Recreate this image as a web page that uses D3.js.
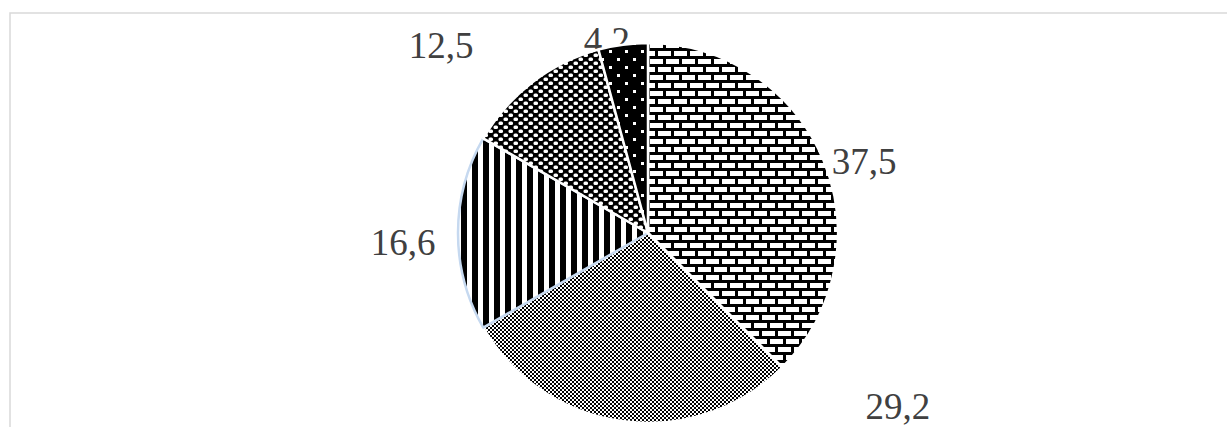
<!DOCTYPE html>
<html>
<head>
<meta charset="utf-8">
<script src="https://cdn.jsdelivr.net/npm/d3@7"></script>
<style>
  html, body { margin: 0; padding: 0; background: #fff; }
  svg { display: block; }
</style>
</head>
<body>
<svg id="chart" width="1227" height="427"></svg>
<script>
// chart data
const values = [37.5, 29.2, 16.6, 12.5, 4.2];
const valueLabels = ['37,5', '29,2', '16,6', '12,5', '4,2'];
const fills = ['brick', 'checkFine', 'stripes', 'sphere', 'dots'];

// label placement (degrees clockwise from top, radius as share of pie radius)
const labelAngle = [71.5, 124.7, 268, 312.2, 348];
const labelRadius = [1.20, 1.60, 1.29, 1.47, 1.04];

const W = 1227, H = 427;
const cx = 648, cy = 233, r = 190;

const svg = d3.select('#chart');
const defs = svg.append('defs');

// brick
const brick = defs.append('pattern')
  .attr('id', 'brick')
  .attr('patternUnits', 'userSpaceOnUse')
  .attr('width', 16).attr('height', 16);
brick.append('rect').attr('width', 16).attr('height', 16).style('fill', '#000');
[[2, 2], [10, 10], [-6, 10]].forEach(([x, y]) => {
  brick.append('rect')
    .attr('x', x).attr('y', y)
    .attr('width', 13).attr('height', 5)
    .style('fill', '#fff');
});

// small checker
const checkFine = defs.append('pattern')
  .attr('id', 'checkFine')
  .attr('patternUnits', 'userSpaceOnUse')
  .attr('width', 4).attr('height', 4);
checkFine.append('rect').attr('width', 4).attr('height', 4).style('fill', '#fff');
[[0, 0], [2, 2]].forEach(([x, y]) => {
  checkFine.append('rect')
    .attr('x', x).attr('y', y)
    .attr('width', 2).attr('height', 2)
    .style('fill', '#000');
});

// vertical stripes
const stripes = defs.append('pattern')
  .attr('id', 'stripes')
  .attr('patternUnits', 'userSpaceOnUse')
  .attr('width', 11).attr('height', 10);
stripes.append('rect').attr('width', 11).attr('height', 10).style('fill', '#fff');
stripes.append('rect').attr('width', 6).attr('height', 10).style('fill', '#000');

// sphere-ish checker
const sphere = defs.append('pattern')
  .attr('id', 'sphere')
  .attr('patternUnits', 'userSpaceOnUse')
  .attr('width', 10).attr('height', 8);
sphere.append('rect').attr('width', 10).attr('height', 8).style('fill', '#000');
[[0, 0.5], [5, 4.5], [-5, 4.5], [0, -3.5], [5, -3.5]].forEach(([x, y]) => {
  sphere.append('rect')
    .attr('x', x + 0.5).attr('y', y)
    .attr('width', 4.5).attr('height', 3.5)
    .attr('rx', 1.5)
    .style('fill', '#fff');
});

// black with white dots
const dots = defs.append('pattern')
  .attr('id', 'dots')
  .attr('patternUnits', 'userSpaceOnUse')
  .attr('width', 16).attr('height', 16);
dots.append('rect').attr('width', 16).attr('height', 16).style('fill', '#000');
[[1, 1], [9, 9]].forEach(([x, y]) => {
  dots.append('rect')
    .attr('x', x).attr('y', y)
    .attr('width', 3).attr('height', 3)
    .style('fill', '#fff');
});

// chart area border
svg.append('rect')
  .attr('x', 10).attr('y', 13)
  .attr('width', W + 20).attr('height', H + 20)
  .style('fill', 'none')
  .style('stroke', '#d9d9d9')
  .style('stroke-width', 1.5);

// labels
const pie = d3.pie().sort(null).value(d => d);
const arcs = pie(values);

svg.append('g')
  .selectAll('text')
  .data(arcs)
  .enter()
  .append('text')
  .attr('x', (d, i) => cx + r * labelRadius[i] * Math.sin(labelAngle[i] * Math.PI / 180))
  .attr('y', (d, i) => cy - r * labelRadius[i] * Math.cos(labelAngle[i] * Math.PI / 180))
  .attr('dy', '0.35em')
  .attr('text-anchor', 'middle')
  .style('font-family', '"Liberation Serif", "Times New Roman", serif')
  .style('font-size', '37px')
  .style('fill', '#404040')
  .text((d, i) => valueLabels[i]);

// pie
const arc = d3.arc().innerRadius(0).outerRadius(r);

svg.append('g')
  .attr('transform', `translate(${cx},${cy})`)
  .selectAll('path')
  .data(arcs)
  .enter()
  .append('path')
  .attr('d', arc)
  .style('fill', (d, i) => `url(#${fills[i]})`)
  .style('stroke', (d, i) => i === 2 ? '#c6d9f0' : '#fff')
  .style('stroke-width', 2.5)
  .style('stroke-linejoin', 'round');
</script>
</body>
</html>
